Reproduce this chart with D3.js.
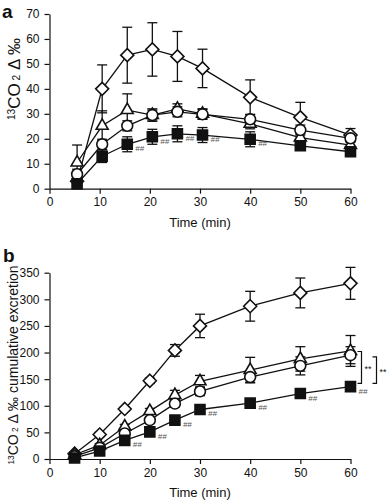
<!DOCTYPE html>
<html>
<head>
<meta charset="utf-8">
<script src="https://cdn.jsdelivr.net/npm/d3@7"></script>
<style>
  body { margin: 0; background: #fff; }
  svg { display: block; font-family: "Liberation Sans", Arial, sans-serif; }
</style>
</head>
<body>
<script>
// panel a : breath 13CO2 delta over time
var timeA = [5.5, 10.5, 15.5, 20.5, 25.5, 30.5, 40, 50, 60];
var diamondA = [3, 40, 53.5, 55.8, 53, 48.2, 36.6, 28.6, 21.5];
var diamondAErr = [1, 9.6, 11.2, 10.7, 10, 7.7, 7, 6, 2.6];
var triangleA = [10.5, 25.2, 31.5, 29.5, 32, 30, 26, 20.5, 17.5];
var triangleAErr = [7, 6, 6.5, 2.5, 2, 2, 2, 1.5, 1.5];
var circleA = [5.8, 17.8, 25.2, 29.5, 30.8, 29.8, 27.8, 23.5, 20.2];
var circleAErr = [2, 2, 2, 2, 2, 2, 2, 2, 1.5];
var squareA = [2, 13, 17.8, 20.8, 22, 21.5, 19.8, 17.2, 14.8];
var squareAErr = [2, 2.5, 3, 3, 3.2, 3, 3, 1, 1];
var hashA = [2, 3, 4, 5, 6];   // points of square series marked ##

// panel b : cumulative excretion
var timeB = [5, 10, 15, 20, 25, 30, 40, 50, 60];
var diamondB = [10, 46, 94, 147, 204, 250, 287, 312, 330];
var diamondBErr = [3, 4, 4, 5, 11, 22, 28, 28, 30];
var triangleB = [8, 26, 61, 90, 120, 146, 167, 188, 203];
var triangleBErr = [2, 3, 4, 5, 9, 11, 24, 23, 29];
var circleB = [5, 21, 48, 73, 104, 127, 154, 175, 195];
var circleBErr = [2, 3, 4, 5, 6, 8, 10, 17, 16];
var squareB = [2, 15, 35, 51, 73, 93, 105, 123, 136];
var squareBErr = [1, 2, 3, 3, 3, 3, 3, 3, 3];
var hashB = [2, 3, 4, 5, 6, 7, 8];
var bracketsB = [[142, 202], [142, 192]];

var xTicks = [0, 10, 20, 30, 40, 50, 60];
var yTicksA = [0, 10, 20, 30, 40, 50, 60, 70];
var yTicksB = [0, 50, 100, 150, 200, 250, 300, 350];

var width = 388, height = 500;
var svg = d3.select('body').append('svg')
    .attr('width', width)
    .attr('height', height);

var diamondPath = function(r) {
  return 'M0,' + (-r) + 'L' + r + ',0L0,' + r + 'L' + (-r) + ',0Z';
};

function drawPanel(opt) {
  var g = svg.append('g');
  var x = d3.scaleLinear().domain([0, 60]).range([49.5, 350.5]);
  var y = d3.scaleLinear().domain(opt.yDomain).range(opt.yRange);

  g.append('g')
      .attr('transform', 'translate(0,' + opt.yRange[0] + ')')
      .call(d3.axisBottom(x).tickValues(xTicks).tickSize(5).tickSizeOuter(0).tickPadding(4))
      .call(function(a) {
        a.selectAll('text').attr('font-size', 12).attr('fill', '#111').attr('font-family', null);
        a.selectAll('line,path').attr('stroke', '#111').attr('stroke-width', 1.2);
      });
  g.append('g')
      .attr('transform', 'translate(49.5,0)')
      .call(d3.axisLeft(y).tickValues(opt.yTicks).tickSize(5).tickSizeOuter(0).tickPadding(5))
      .call(function(a) {
        a.selectAll('text').attr('font-size', 12).attr('fill', '#111').attr('font-family', null);
        a.selectAll('line,path').attr('stroke', '#111').attr('stroke-width', 1.2);
      });

  g.append('text')
      .attr('x', x(30)).attr('y', opt.yRange[0] + 38)
      .attr('text-anchor', 'middle').attr('font-size', 13).attr('fill', '#111')
      .text('Time (min)');

  var yl = g.append('text')
      .attr('transform', 'translate(' + opt.labelX + ',' + opt.labelY + ') rotate(-90)')
      .attr('text-anchor', 'middle').attr('font-size', opt.labelSize).attr('fill', '#111');
  yl.append('tspan').attr('font-size', opt.labelSize * 0.6).attr('dy', -opt.labelSize * 0.3).text('13');
  yl.append('tspan').attr('dy', opt.labelSize * 0.3).text('CO');
  yl.append('tspan').attr('font-size', opt.labelSize * 0.6).text(' 2');
  yl.append('tspan').text(' Δ ‰' + opt.labelRest);

  g.append('text')
      .attr('x', opt.letterX).attr('y', opt.letterY)
      .attr('font-size', 19).attr('font-weight', 'bold').attr('fill', '#111')
      .text(opt.letter);

  var line = d3.line().x(function(d) { return x(d[0]); }).y(function(d) { return y(d[1]); });

  opt.series.forEach(function(s) {
    var pts = opt.times.map(function(t, i) { return [t, s.values[i], s.err[i]]; });
    g.append('path').datum(pts)
        .attr('d', line).attr('fill', 'none')
        .attr('stroke', '#111').attr('stroke-width', 1.3);
    var eb = g.append('g').selectAll('g').data(pts).enter().append('g')
        .attr('stroke', '#111').attr('stroke-width', 1.3);
    eb.append('line')
        .attr('x1', function(d) { return x(d[0]); }).attr('x2', function(d) { return x(d[0]); })
        .attr('y1', function(d) { return y(d[1] - d[2]); }).attr('y2', function(d) { return y(d[1] + d[2]); });
    [1, -1].forEach(function(sign) {
      eb.append('line')
          .attr('x1', function(d) { return x(d[0]) - 5; }).attr('x2', function(d) { return x(d[0]) + 5; })
          .attr('y1', function(d) { return y(d[1] + sign * d[2]); })
          .attr('y2', function(d) { return y(d[1] + sign * d[2]); });
    });
  });

  opt.series.forEach(function(s) {
    var pts = opt.times.map(function(t, i) { return [t, s.values[i]]; });
    g.append('g').selectAll('path').data(pts).enter().append('path')
        .attr('transform', function(d) { return 'translate(' + x(d[0]) + ',' + y(d[1]) + ')'; })
        .attr('d', s.shape)
        .attr('fill', s.fill)
        .attr('stroke', '#111')
        .attr('stroke-width', 1.6);
  });

  g.append('g').selectAll('text').data(opt.hash).enter().append('text')
      .attr('x', function(i) { return x(opt.times[i]) + 8; })
      .attr('y', function(i) { return y(opt.square[i]) + 7; })
      .attr('font-size', 8).attr('font-style', 'italic').attr('fill', '#555')
      .text('##');

  return {x: x, y: y, g: g};
}

var shapes = {
  diamond: diamondPath(6.5),
  triangle: d3.symbol().type(d3.symbolTriangle).size(62)(),
  circle: d3.symbol().type(d3.symbolCircle).size(92)(),
  square: d3.symbol().type(d3.symbolSquare).size(100)()
};

drawPanel({
  yDomain: [0, 70], yRange: [188.7, 14], yTicks: yTicksA,
  times: timeA, hash: hashA, square: squareA,
  labelX: 20, labelY: 79, labelSize: 17, labelRest: '',
  letter: 'a', letterX: 2, letterY: 18,
  series: [
    {values: diamondA, err: diamondAErr, shape: shapes.diamond, fill: '#fff'},
    {values: triangleA, err: triangleAErr, shape: shapes.triangle, fill: '#fff'},
    {values: circleA, err: circleAErr, shape: shapes.circle, fill: '#fff'},
    {values: squareA, err: squareAErr, shape: shapes.square, fill: '#111'}
  ]
});

var pb = drawPanel({
  yDomain: [0, 350], yRange: [459, 272.7], yTicks: yTicksB,
  times: timeB, hash: hashB, square: squareB,
  labelX: 18, labelY: 365, labelSize: 14, labelRest: ' cumulative excretion',
  letter: 'b', letterX: 3, letterY: 262,
  series: [
    {values: diamondB, err: diamondBErr, shape: shapes.diamond, fill: '#fff'},
    {values: triangleB, err: triangleBErr, shape: shapes.triangle, fill: '#fff'},
    {values: circleB, err: circleBErr, shape: shapes.circle, fill: '#fff'},
    {values: squareB, err: squareBErr, shape: shapes.square, fill: '#111'}
  ]
});

// significance brackets at 60 min
bracketsB.forEach(function(b, i) {
  var bx = pb.x(60) + 11 + i * 15;
  pb.g.append('path')
      .attr('d', 'M' + (bx - 4) + ',' + pb.y(b[1]) + 'H' + bx + 'V' + pb.y(b[0]) + 'H' + (bx - 4))
      .attr('fill', 'none').attr('stroke', '#111').attr('stroke-width', 1.2);
  pb.g.append('text')
      .attr('x', bx + 3).attr('y', (pb.y(b[0]) + pb.y(b[1])) / 2 + 5)
      .attr('font-size', 9).attr('fill', '#111')
      .text('**');
});
</script>
</body>
</html>
